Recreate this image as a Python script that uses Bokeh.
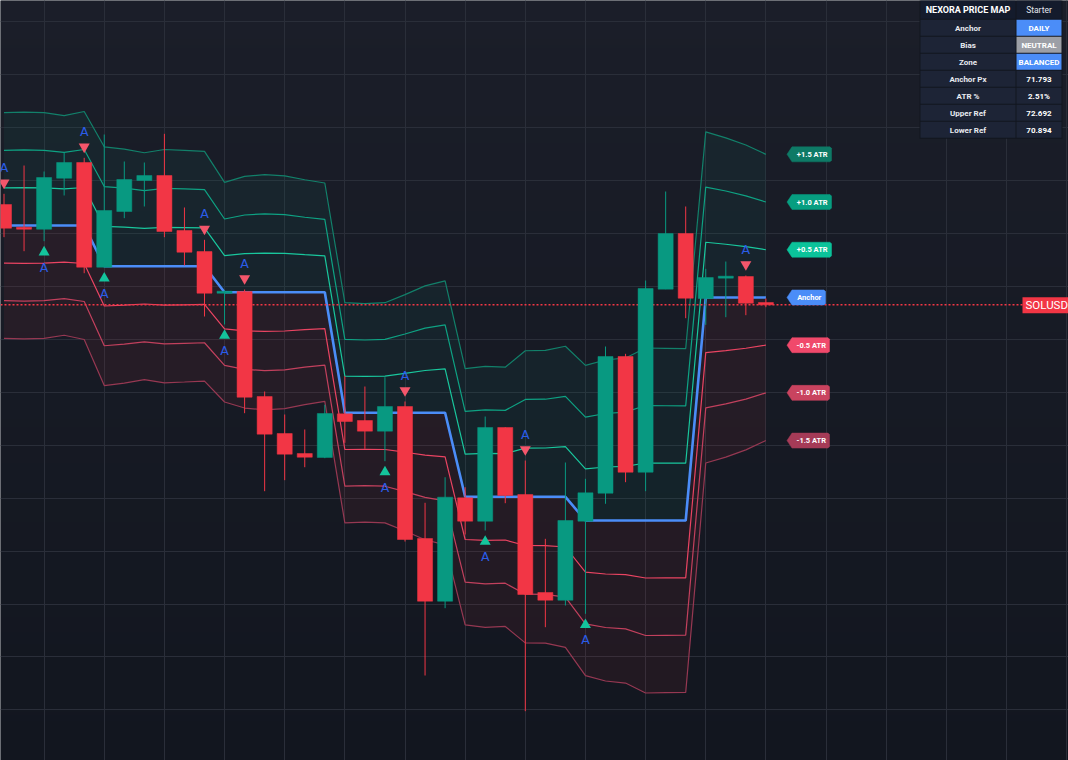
import numpy as np
from bokeh.plotting import figure
from bokeh.models import Range1d, FixedTicker, Grid
from bokeh.core.properties import value
from bokeh.embed import file_html
from bokeh.resources import INLINE

# ---------------- data ----------------
symbol = "SOLUSD"
opens = [73.550, 73.121, 73.083, 74.046, 74.343, 72.365, 73.417, 74.003, 74.098, 73.058,
         72.661, 71.873, 71.906, 69.921, 69.222, 68.844, 68.769, 69.594, 69.468, 69.266,
         69.732, 67.238, 66.053, 68.007, 67.565, 69.336, 68.070, 66.218, 66.072, 67.565,
         68.094, 70.677, 68.491, 71.949, 73.002, 71.773, 72.157, 72.189, 71.698]
highs = [73.752, 74.286, 74.173, 74.538, 74.432, 74.872, 74.362, 74.343, 74.885, 73.493,
         72.882, 71.924, 71.943, 70.016, 69.581, 69.298, 69.765, 70.305, 70.110, 70.286,
         69.827, 67.913, 68.396, 68.207, 69.543, 69.340, 68.712, 67.232, 68.674, 68.366,
         70.866, 70.728, 72.113, 73.795, 73.512, 72.334, 72.472, 72.208, 71.773]
lows = [72.932, 72.667, 72.856, 73.720, 72.251, 72.360, 73.291, 73.512, 72.932, 72.397,
        71.433, 71.282, 69.606, 68.132, 68.340, 68.585, 68.756, 69.046, 68.933, 68.699,
        67.181, 64.649, 65.921, 67.314, 67.389, 67.905, 63.975, 65.562, 65.972, 65.815,
        67.894, 68.302, 68.132, 71.949, 71.401, 71.276, 71.420, 71.458, 71.609]
closes = [73.102, 73.083, 74.060, 74.343, 72.365, 73.436, 74.022, 74.098, 73.039, 72.648,
          71.873, 71.911, 69.908, 69.209, 68.831, 68.774, 69.600, 69.449, 69.266, 69.732,
          67.219, 66.053, 68.019, 67.565, 69.336, 68.051, 66.180, 66.072, 67.578, 68.102,
          70.677, 68.491, 71.962, 73.002, 71.779, 72.170, 72.195, 71.684, 71.654]
# daily anchor price per bar
anchor = [73.153, 73.153, 73.153, 73.153, 73.153,
          72.384, 72.384, 72.384, 72.384, 72.384, 72.384,
          71.892, 71.892, 71.892, 71.892, 71.892, 71.892,
          69.613, 69.613, 69.613, 69.613, 69.613, 69.613,
          68.026, 68.026, 68.026, 68.026, 68.026, 68.026,
          67.578, 67.578, 67.578, 67.578, 67.578, 67.578,
          71.793, 71.793, 71.793, 71.793]
# ATR per bar (price units)
atr = [1.421, 1.429, 1.421, 1.383, 1.436,
       1.504, 1.474, 1.429, 1.470, 1.459, 1.447,
       1.383, 1.459, 1.481, 1.466, 1.417, 1.376,
       1.387, 1.376, 1.387, 1.489, 1.599, 1.663,
       1.614, 1.644, 1.633, 1.840, 1.844, 1.897,
       1.954, 2.022, 2.048, 2.173, 2.169, 2.166,
       2.086, 2.011, 1.920, 1.803]
band_mults = [1.5, 1.0, 0.5, -0.5, -1.0, -1.5]
band_labels = ["+1.5 ATR", "+1.0 ATR", "+0.5 ATR", "-0.5 ATR", "-1.0 ATR", "-1.5 ATR"]
anchor_label = "Anchor"
bull_signals = [2, 5, 11, 19, 24, 29]
bear_signals = [0, 4, 10, 12, 20, 26, 37]
signal_text = "A"

table_title = "NEXORA PRICE MAP"
table_plan = "Starter"
table_keys = ["Anchor", "Bias", "Zone", "Anchor Px", "ATR %", "Upper Ref", "Lower Ref"]
table_vals = ["DAILY", "NEUTRAL", "BALANCED", "71.793", "2.51%", "72.692", "70.894"]

# ---------------- styles ----------------
UP, DOWN = "#089981", "#f23645"
band_line_colors = ["#12806a", "#0ea283", "#19c79d", "#ea4462", "#c2405d", "#963852"]
label_colors = ["#0e7a66", "#079e80", "#0bc39a", "#f0496b", "#c9435f", "#a53b57"]
ANCHOR_COLOR = "#4b8df8"
value_bg = ["#4b8df8", "#9c9fa6", "#4b8df8", None, None, None, None]
FONT = value("Roboto")

# ---------------- layout mapping (reference px -> data) ----------------
FIG_W, FIG_H, OFF = 1068, 760, 0
BAR0_PX, BAR_PX = 3.5, 20.05
P_REF, P_REF_PX, PX_PER_P = 72.0, 286.0, 52.92


def X(px):
    return (px - BAR0_PX) / BAR_PX


def Y(py):
    return P_REF + (P_REF_PX - py) / PX_PER_P


p = figure(width=FIG_W, height=FIG_H,
           x_range=Range1d(X(OFF), X(OFF + FIG_W)),
           y_range=Range1d(Y(OFF + FIG_H), Y(OFF)),
           output_backend="svg", toolbar_location=None,
           x_axis_location=None, y_axis_location=None, min_border=0,
           background_fill_color="#161a25", border_fill_color="#161a25",
           outline_line_color=None)
p.grid.visible = False

# background gradient
N = 256
grad = np.zeros((N, 1), dtype=np.uint32)
view = grad.view(dtype=np.uint8).reshape((N, 1, 4))
top_c = np.array([27, 30, 41], dtype=float)
bot_c = np.array([18, 22, 31], dtype=float)
t = np.linspace(0.0, 1.0, N)
for k in range(3):
    view[:, 0, k] = np.round(bot_c[k] + (top_c[k] - bot_c[k]) * t).astype(np.uint8)
view[:, 0, 3] = 255
p.image_rgba(image=[grad], x=X(OFF), y=Y(OFF + FIG_H),
             dw=X(OFF + FIG_W) - X(OFF), dh=Y(OFF) - Y(OFF + FIG_H), level="image")

# grid
p.add_layout(Grid(dimension=0, ticker=FixedTicker(ticks=list(range(2, 56, 3))),
                  grid_line_color="#2a2e39", grid_line_width=1))
p.add_layout(Grid(dimension=1, ticker=FixedTicker(ticks=list(range(60, 80))),
                  grid_line_color="#2a2e39", grid_line_width=1))

n = len(closes)
bars = np.arange(n)
anc = np.array(anchor)
atr_a = np.array(atr)
bands = [anc + m * atr_a for m in band_mults]

# fills
p.varea(x=bars, y1=anc, y2=bands[0], fill_color=UP, fill_alpha=0.08)
p.varea(x=bars, y1=bands[5], y2=anc, fill_color=DOWN, fill_alpha=0.07)

# band lines
for b, col in zip(bands, band_line_colors):
    p.line(bars, b, line_color=col, line_width=1.2)
p.line(bars, anc, line_color=ANCHOR_COLOR, line_width=2.6)

# last price dotted line
last = closes[-1]
p.segment(x0=[X(OFF)], y0=[last], x1=[X(1022)], y1=[last],
          line_color=DOWN, line_width=1.5, line_dash="2 2")

# candles
o = np.array(opens); c = np.array(closes)
cols = [UP if cc >= oo else DOWN for oo, cc in zip(opens, closes)]
p.segment(x0=bars, y0=lows, x1=bars, y1=highs, line_color=cols, line_width=1)
p.vbar(x=bars, width=0.75, top=np.maximum(o, c), bottom=np.minimum(o, c),
       fill_color=cols, line_color=cols, line_width=0.5)

# signals
h = np.array(highs); l = np.array(lows)
bx = np.array(bear_signals); ux = np.array(bull_signals)
p.scatter(x=bx, y=h[bx] + 11 / PX_PER_P, marker="inverted_triangle", size=11,
          fill_color="#f4566b", line_color=None)
p.scatter(x=ux, y=l[ux] - 11 / PX_PER_P, marker="triangle", size=11,
          fill_color="#14c49c", line_color=None)
p.text(x=bx, y=h[bx] + 26 / PX_PER_P, text=[signal_text] * len(bx),
       text_color="#2b5de8", text_font=value("DejaVu Sans"), text_font_size=value("12.5px"),
       text_align="center", text_baseline="middle")
p.text(x=ux, y=l[ux] - 26 / PX_PER_P, text=[signal_text] * len(ux),
       text_color="#2b5de8", text_font=value("DejaVu Sans"), text_font_size=value("12.5px"),
       text_align="center", text_baseline="middle")

# right-side level tags
tag_y = [b[-1] for b in bands] + [anc[-1]]
tag_txt = band_labels + [anchor_label]
tag_col = label_colors + [ANCHOR_COLOR]
tag_right = [831, 831, 831, 829, 829, 829, 825]
hh = 7.5 / PX_PER_P
xs, ys, tx = [], [], []
for yv, r in zip(tag_y, tag_right):
    xs.append([X(786.5), X(791.5), X(r - 1.5), X(r), X(r), X(r - 1.5), X(791.5)])
    ys.append([yv, yv + hh, yv + hh, yv + hh - 1.5 / PX_PER_P, yv - hh + 1.5 / PX_PER_P, yv - hh, yv - hh])
    tx.append(X((791.5 + r) / 2 + 0.5))
p.patches(xs=xs, ys=ys, fill_color=tag_col, line_color=tag_col, line_width=0.5)
p.text(x=tx, y=tag_y, text=tag_txt, text_color="#ffffff", text_font=FONT,
       text_font_size=value("7.5px"), text_font_style="bold",
       text_align="center", text_baseline="middle")

# symbol tag
p.quad(left=[X(1022)], right=[X(1068)], top=[Y(296.7)], bottom=[Y(312.7)],
       fill_color=DOWN, line_color=None)
p.text(x=[X(1025)], y=[Y(304.9)], text=[symbol], text_color="#ffffff", text_font=FONT,
       text_font_size=value("11.5px"), text_align="left", text_baseline="middle")

# info table
TL, TM, TR = 920, 1015, 1061
p.quad(left=[X(TL - 1)], right=[X(TR + 1)], top=[Y(0)], bottom=[Y(138.3)],
       fill_color="#12161f", line_color=None)
p.quad(left=[X(TL), X(TM + 1)], right=[X(TM), X(TR)], top=[Y(0), Y(0)],
       bottom=[Y(18.3), Y(18.3)], fill_color="#141b2c", line_color=None)
row_top = [19.3 + 17 * r for r in range(len(table_keys))]
p.quad(left=[X(TL)] * len(row_top), right=[X(TM)] * len(row_top),
       top=[Y(t0) for t0 in row_top], bottom=[Y(t0 + 16) for t0 in row_top],
       fill_color="#1d2436", line_color=None)
vcols = [vb if vb else "#1d2436" for vb in value_bg]
p.quad(left=[X(TM + 1)] * len(row_top), right=[X(TR)] * len(row_top),
       top=[Y(t0) for t0 in row_top], bottom=[Y(t0 + 16) for t0 in row_top],
       fill_color=vcols, line_color=None)
cx1, cx2 = X((TL + TM) / 2), X((TM + 1 + TR) / 2)
p.text(x=[cx1], y=[Y(9.5)], text=[table_title], text_color="#ffffff", text_font=FONT,
       text_font_size=value("9px"), text_font_style="bold",
       text_align="center", text_baseline="middle")
p.text(x=[cx2], y=[Y(9.5)], text=[table_plan], text_color="#e6e8ee", text_font=FONT,
       text_font_size=value("8.5px"), text_align="center", text_baseline="middle")
ry = [Y(t0 + 8.3) for t0 in row_top]
p.text(x=[cx1] * len(ry), y=ry, text=table_keys, text_color="#e8eaf0", text_font=FONT,
       text_font_size=value("8px"), text_font_style="bold",
       text_align="center", text_baseline="middle")
p.text(x=[cx2] * len(ry), y=ry, text=table_vals, text_color="#ffffff", text_font=FONT,
       text_font_size=value("8px"), text_font_style="bold",
       text_align="center", text_baseline="middle")

open("out.html", "w").write(file_html(p, INLINE))
